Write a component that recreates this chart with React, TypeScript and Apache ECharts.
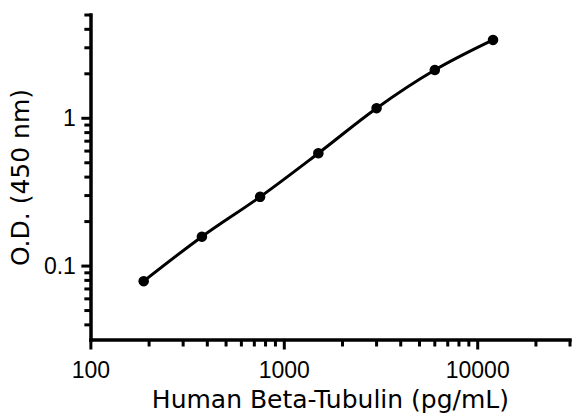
import React, { useEffect, useRef } from "react";
import * as echarts from "echarts";

// Data
const concentrations = [187.5, 375, 750, 1500, 3000, 6000, 12000];
const odValues = [0.079, 0.158, 0.294, 0.58, 1.17, 2.12, 3.39];

// Axis ranges and ticks
const X_MIN = 100;
const X_MAX = 30000;
const Y_MIN = 0.0316;
const Y_MAX = 5;
const xTickLabels = ["100", "1000", "10000"];
const yTickLabels = ["0.1", "1"];
const xMajorTicks = [100, 1000, 10000];
const xMinorTicks = [200, 300, 400, 500, 600, 700, 800, 900, 2000, 3000, 4000, 5000, 6000, 7000, 8000, 9000, 20000, 30000];
const yMajorTicks = [0.1, 1];
const yMinorTicks = [0.04, 0.05, 0.06, 0.07, 0.08, 0.09, 0.2, 0.3, 0.4, 0.5, 0.6, 0.7, 0.8, 0.9, 2, 3, 4, 5];

const MAJOR_LEN = 8;
const MINOR_LEN = 5;

function labelFor(v: number, labels: string[]) {
  for (const l of labels) {
    const n = parseFloat(l);
    if (Math.abs(Math.log10(v) - Math.log10(n)) < 1e-6) return l;
  }
  return "";
}

export default function App() {
  const ref = useRef<HTMLDivElement>(null);
  useEffect(() => {
    if (!ref.current) return;
    const chart = echarts.init(ref.current, null, { renderer: "svg" });
    const xTickData = [
      ...xMajorTicks.map((v) => [v, Y_MIN, MAJOR_LEN]),
      ...xMinorTicks.map((v) => [v, Y_MIN, MINOR_LEN]),
    ];
    const yTickData = [
      ...yMajorTicks.map((v) => [X_MIN, v, MAJOR_LEN]),
      ...yMinorTicks.map((v) => [X_MIN, v, MINOR_LEN]),
    ];
    chart.setOption({
      animation: false,
      backgroundColor: "#fff",
      grid: { left: 88, top: 15, width: 484.5, height: 325 },
      xAxis: {
        type: "log",
        logBase: 10,
        min: X_MIN,
        max: X_MAX,
        name: "Human Beta-Tubulin (pg/mL)",
        nameLocation: "middle",
        nameGap: 47,
        nameTextStyle: { fontFamily: "DejaVu Sans", fontSize: 25, color: "#000" },
        axisLine: { show: true, lineStyle: { color: "#000", width: 3.5, cap: "square" } },
        axisTick: { show: false },
        splitLine: { show: false },
        minorTick: { show: false },
        axisLabel: {
          margin: 18,
          fontFamily: "Liberation Sans",
          fontSize: 23,
          color: "#000",
          formatter: (v: number) => labelFor(v, xTickLabels),
        },
      },
      yAxis: {
        type: "log",
        logBase: 10,
        min: Y_MIN,
        max: Y_MAX,
        name: "O.D. (450 nm)",
        nameLocation: "middle",
        nameGap: 56,
        nameTextStyle: { fontFamily: "DejaVu Sans", fontSize: 25, color: "#000" },
        axisLine: { show: true, lineStyle: { color: "#000", width: 3.5, cap: "square" } },
        axisTick: { show: false },
        splitLine: { show: false },
        minorTick: { show: false },
        axisLabel: {
          margin: 15,
          fontFamily: "Liberation Sans",
          fontSize: 23,
          color: "#000",
          formatter: (v: number) => labelFor(v, yTickLabels),
        },
      },
      series: [
        {
          type: "line",
          data: concentrations.map((c, i) => [c, odValues[i]]),
          smooth: 0.35,
          symbol: "circle",
          symbolSize: 10.5,
          itemStyle: { color: "#000" },
          lineStyle: { color: "#000", width: 3 },
          z: 5,
        },
        {
          type: "custom",
          data: xTickData,
          clip: false,
          silent: true,
          renderItem: (params: any, api: any) => {
            const p = api.coord([api.value(0), api.value(1)]);
            const len = api.value(2);
            return {
              type: "line",
              shape: { x1: p[0], y1: p[1], x2: p[0], y2: p[1] + len + 1.5 },
              style: { stroke: "#000", lineWidth: 3 },
            };
          },
        },
        {
          type: "custom",
          data: yTickData,
          clip: false,
          silent: true,
          renderItem: (params: any, api: any) => {
            const p = api.coord([api.value(0), api.value(1)]);
            const len = api.value(2);
            return {
              type: "line",
              shape: { x1: p[0], y1: p[1], x2: p[0] - len - 1.5, y2: p[1] },
              style: { stroke: "#000", lineWidth: 3 },
            };
          },
        },
      ],
    });
    return () => chart.dispose();
  }, []);
  return (
    <div
      ref={ref}
      style={{ position: "fixed", left: 0, top: 0, width: 573, height: 417 }}
    />
  );
}
